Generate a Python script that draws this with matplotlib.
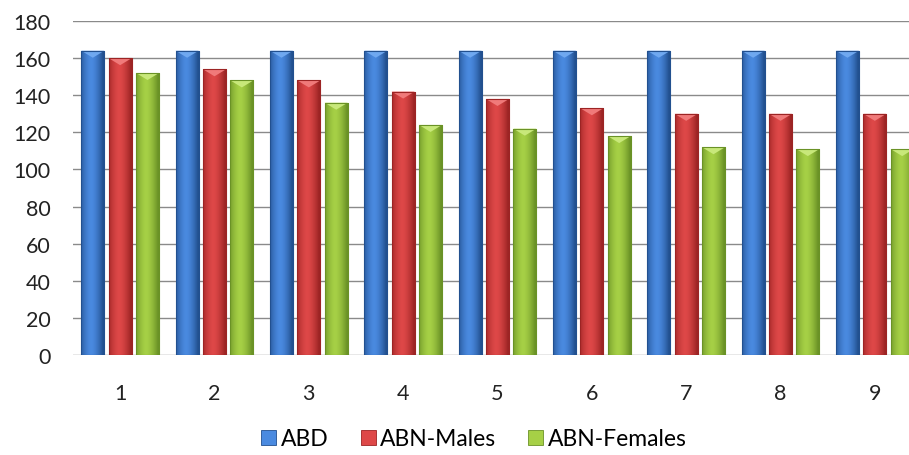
import numpy as np
import matplotlib.pyplot as plt
from matplotlib.colors import to_rgb
from matplotlib.patches import Polygon

plt.rcParams['font.family'] = ['Lato', 'DejaVu Sans']

groups = ['1', '2', '3', '4', '5', '6', '7', '8', '9']
abd = [164, 164, 164, 164, 164, 164, 164, 164, 164]
abn_males = [160, 154, 148, 142, 138, 133, 130, 130, 130]
abn_females = [152, 148, 136, 124, 122, 118, 112, 111, 111]
series_names = ['ABD', 'ABN-Males', 'ABN-Females']

# (edge colour, centre colour, bevel colour)
styles = [
    ('#22508f', '#4a8ae0', '#6fa8f0'),
    ('#9c2424', '#de4848', '#f07a7a'),
    ('#6a9226', '#a6d046', '#c8e87a'),
]


def shade(edge, centre, n=64):
    e = np.array(to_rgb(edge))
    c = np.array(to_rgb(centre))
    t = np.linspace(-1, 1, n)
    w = np.clip(1 - np.abs(t + 0.15) ** 1.6, 0, 1)
    return (e[None, :] * (1 - w[:, None]) + c[None, :] * w[:, None])[None, :, :]


fig = plt.figure(figsize=(9.09, 4.56), dpi=100)
ax = fig.add_axes([73 / 909, 100 / 456, 849 / 909, 334 / 456])

x = np.arange(len(groups))
width = 0.245
step = 0.29
bevel = 3.8

for i, (vals, name) in enumerate(zip([abd, abn_males, abn_females], series_names)):
    edge, centre, light = styles[i]
    bars = ax.bar(x + (i - 1) * step, vals, width, color=centre, label=name,
                  edgecolor=edge, linewidth=0.6, zorder=3)
    img = shade(edge, centre)
    for b in bars:
        x0, w, h = b.get_x(), b.get_width(), b.get_height()
        im = ax.imshow(img, extent=(x0, x0 + w, 0, h), aspect='auto', zorder=3.1,
                       interpolation='bilinear')
        im.set_clip_path(b)
        tri = Polygon([(x0, h), (x0 + w, h), (x0 + w / 2, h - bevel)],
                      closed=True, color=light, zorder=3.2, lw=0)
        ax.add_patch(tri)
        ax.add_patch(plt.Rectangle((x0, 0), w, h, fill=False, edgecolor=edge,
                                   lw=0.8, zorder=3.3))

ax.set_xlim(-0.5, len(groups) - 0.5)
ax.set_ylim(0, 180)
ax.set_yticks(range(0, 181, 20))
ax.set_xticks(x)
ax.set_xticklabels(groups)
ax.tick_params(axis='both', length=0, labelsize=15.5, colors='#222222')
ax.tick_params(axis='x', pad=20)
ax.tick_params(axis='y', pad=16)
ax.grid(axis='y', color='#8a8a8a', linewidth=1, zorder=0)
for s in ax.spines.values():
    s.set_visible(False)

handles, labels = ax.get_legend_handles_labels()
fig.legend(handles, labels, loc='center', bbox_to_anchor=(474 / 909, 1 - 440 / 456),
           ncol=3, frameon=False, fontsize=16.5, handlelength=0.65, handleheight=0.65,
           handletextpad=0.2, columnspacing=1.4)

fig.savefig('out.png', dpi=100)
